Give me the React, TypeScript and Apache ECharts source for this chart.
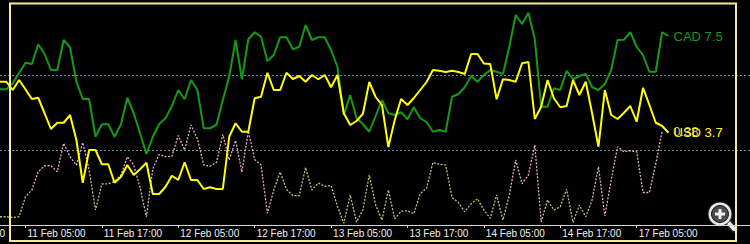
import React, { useEffect, useRef } from "react";
import * as echarts from "echarts";

// hour offsets relative to "11 Feb 05:00"
const firstHour = -4;
const tickHours = [0, 12, 24, 36, 48, 60, 72, 84, 96];
const tickLabels = [
  "11 Feb 05:00",
  "11 Feb 17:00",
  "12 Feb 05:00",
  "12 Feb 17:00",
  "13 Feb 05:00",
  "13 Feb 17:00",
  "14 Feb 05:00",
  "14 Feb 17:00",
  "17 Feb 05:00",
];
const hiddenLeftLabel = "10 Feb 17:00";

const cadValues = [
  5.43, 5.43, 5.67, 6.08, 6.49, 6.44, 7.23, 6.84, 6.2, 6.2,
  7.4, 7.11, 5.73, 5.04, 5.04, 3.53, 4.03, 4.03, 3.53, 4.03,
  5.09, 4.47, 3.67, 2.84, 3.53, 4.04, 4.27, 4.76, 5.4, 5.03,
  5.8, 5.4, 3.87, 3.87, 4.01, 5.0, 5.93, 7.4, 5.83, 7.43,
  7.71, 7.53, 6.56, 6.8, 7.51, 7.51, 7.03, 7.13, 8.0, 7.4,
  7.51, 7.51, 7.0, 6.33, 4.4, 5.2, 4.27, 4.04, 3.73, 4.36,
  5.0, 4.47, 4.4, 4.51, 4.23, 4.71, 4.27, 4.12, 3.73, 3.8,
  3.73, 5.13, 5.24, 5.51, 5.96, 5.73, 6.0, 6.2, 6.13, 6.04,
  7.13, 8.4, 8.04, 8.49, 7.43, 4.73, 4.73, 5.47, 5.4, 6.17,
  5.83, 5.96, 6.04, 5.51, 5.4, 5.64, 6.2, 7.4, 7.41, 7.71,
  7.13, 6.79, 6.13, 6.13, 7.71, 7.56,
];

const usdValues = [
  5.73, 5.73, 5.4, 5.8, 5.43, 5.04, 5.09, 4.47, 3.84, 4.09,
  4.09, 4.4, 3.4, 1.69, 3.0, 3.0, 2.43, 2.43, 1.69, 1.93,
  2.4, 2.0, 2.23, 2.49, 1.24, 1.24, 1.53, 1.97, 1.8, 2.51,
  1.8, 1.8, 1.44, 1.51, 1.44, 1.44, 3.53, 4.07, 3.73, 3.73,
  5.07, 5.13, 6.09, 5.4, 5.4, 6.09, 5.84, 5.96, 5.73, 6.0,
  5.83, 6.0, 5.51, 6.0, 4.47, 4.0, 4.16, 4.45, 5.72, 5.12,
  4.8, 3.12, 4.2, 5.04, 4.8, 5.08, 5.4, 5.72, 6.2, 6.17,
  6.12, 6.17, 6.12, 6.04, 6.84, 6.84, 6.46, 6.44, 5.03, 5.83,
  5.8, 5.73, 6.47, 6.52, 4.24, 4.73, 5.8, 5.07, 4.71, 4.76,
  5.8, 5.2, 5.73, 4.47, 3.13, 5.4, 4.4, 4.24, 4.49, 4.76,
  4.13, 5.49, 4.8, 4.09, 3.96, 3.69,
];

const gapValues = [
  0.33, 0.33, 0.3, 0.33, 1.13, 1.4, 2.13, 2.37, 2.37, 2.13,
  3.27, 2.73, 2.4, 3.3, 2.2, 0.6, 1.64, 1.65, 1.75, 2.0,
  2.73, 2.4, 1.5, 0.33, 2.25, 2.82, 2.73, 2.75, 3.58, 3.0,
  4.0, 3.45, 2.4, 2.35, 2.5, 3.62, 2.6, 3.38, 2.12, 3.75,
  2.62, 2.4, 0.47, 1.4, 2.12, 1.42, 1.18, 1.17, 2.3, 1.4,
  1.68, 1.55, 1.58, 0.75, 0.07, 1.2, 0.12, 0.6, 2.0, 0.8,
  0.2, 1.4, 0.25, 0.55, 0.57, 0.45, 1.25, 1.47, 2.5, 2.43,
  2.4, 1.1, 0.9, 0.53, 0.85, 1.05, 0.6, 0.27, 1.2, 0.2,
  1.2, 2.6, 1.65, 2.0, 3.2, 0.12, 1.0, 0.6, 0.73, 1.43,
  0.1, 0.8, 0.33, 1.0, 2.33, 0.36, 1.8, 3.13, 2.93, 2.97,
  2.93, 1.3, 1.3, 2.45, 3.75,
];

// hour ranges where the dotted gap line is drawn pink (otherwise olive)
const pinkRanges = [
  [1, 10],
  [15, 38],
  [76, 81],
  [89, 200],
];

const cadLabel = "CAD 7.5";
const usdLabel = "USD 3.7";
const gapLabel = "0.38";

const GREEN = "#169a16";
const YELLOW = "#ffff00";
const PINK = "#e6aac8";
const OLIVE = "#c4c07a";
const FONT = "Liberation Sans, Arial, sans-serif";

const toPairs = (vals: number[]) => vals.map((v, k) => [firstHour + k, v]);

export default function App() {
  const ref = useRef<HTMLDivElement>(null);
  useEffect(() => {
    if (!ref.current) return;
    const chart = echarts.init(ref.current, null, { renderer: "svg" });

    const pieces: any[] = [];
    let cursor = -1000;
    pinkRanges.forEach(([a, b]) => {
      pieces.push({ gte: cursor, lt: a, color: OLIVE });
      pieces.push({ gte: a, lt: b, color: PINK });
      cursor = b;
    });
    pieces.push({ gte: cursor, color: OLIVE });

    chart.setOption({
      animation: false,
      backgroundColor: "#000000",
      grid: { left: 0, right: 0, top: 0, bottom: 19, containLabel: false },
      xAxis: {
        type: "value",
        min: firstHour,
        max: 113.8,
        axisLine: { show: true, lineStyle: { color: "#d6d6d6", width: 1 } },
        axisTick: {
          show: true,
          customValues: tickHours,
          length: 3,
          lineStyle: { color: "#d6d6d6" },
        },
        axisLabel: {
          show: true,
          customValues: tickHours,
          formatter: (v: number) => {
            const k = tickHours.indexOf(Math.round(v));
            return k >= 0 ? tickLabels[k] : "";
          },
          align: "left",
          padding: [0, 0, 0, 2],
          margin: 3,
          color: "#f0f0f0",
          fontSize: 10,
          fontFamily: FONT,
        },
        splitLine: { show: false },
      },
      yAxis: {
        type: "value",
        min: 0,
        max: 9,
        interval: 3,
        axisLine: { show: false },
        axisTick: { show: false },
        axisLabel: { show: false },
        splitLine: {
          show: true,
          showMinLine: false,
          showMaxLine: false,
          lineStyle: { color: "#6a91b5", type: [2, 2], width: 1 },
        },
      },
      visualMap: {
        type: "piecewise",
        show: false,
        dimension: 0,
        seriesIndex: 0,
        pieces,
      },
      series: [
        {
          name: "gap",
          type: "line",
          data: toPairs(gapValues),
          showSymbol: false,
          z: 2,
          lineStyle: { width: 1.3, type: [2, 1.5] },
          endLabel: {
            show: true,
            formatter: gapLabel,
            color: "#eaa6d2",
            fontSize: 13,
            fontFamily: FONT,
            distance: 11,
          },
        },
        {
          name: "CAD",
          type: "line",
          data: toPairs(cadValues),
          showSymbol: false,
          z: 3,
          lineStyle: { width: 2, color: GREEN },
          itemStyle: { color: GREEN },
          endLabel: {
            show: true,
            formatter: cadLabel,
            color: GREEN,
            fontSize: 13,
            fontFamily: FONT,
            distance: 5,
          },
        },
        {
          name: "USD",
          type: "line",
          data: toPairs(usdValues),
          showSymbol: false,
          z: 4,
          lineStyle: { width: 2, color: YELLOW },
          itemStyle: { color: YELLOW },
          endLabel: {
            show: true,
            formatter: usdLabel,
            color: YELLOW,
            fontSize: 13,
            fontFamily: FONT,
            distance: 5,
          },
        },
      ],
      graphic: [
        {
          type: "text",
          x: 5,
          y: 228,
          z: 50,
          style: {
            text: hiddenLeftLabel,
            align: "right",
            verticalAlign: "top",
            fill: "#f0f0f0",
            fontSize: 10,
            fontFamily: FONT,
          },
        },
        {
          type: "rect",
          z: 100,
          shape: { x: 10, y: 3.5, width: 726, height: 237.5 },
          style: { fill: "none", stroke: "#f3eca0", lineWidth: 2 },
        },
        {
          type: "group",
          x: 720,
          y: 214,
          z: 110,
          children: [
            {
              type: "line",
              shape: { x1: 7, y1: 7, x2: 14, y2: 15 },
              style: { stroke: "#2a2a2a", lineWidth: 7, lineCap: "round" },
            },
            {
              type: "line",
              shape: { x1: 7, y1: 7, x2: 14, y2: 15 },
              style: { stroke: "#eeeeee", lineWidth: 4, lineCap: "round" },
            },
            {
              type: "circle",
              shape: { cx: 0, cy: 0, r: 12 },
              style: { fill: "#e6e6e6", stroke: "#2a2a2a", lineWidth: 1 },
            },
            {
              type: "circle",
              shape: { cx: 0, cy: 0, r: 8.5 },
              style: { fill: "#4a4a4a", stroke: "#1a1a1a", lineWidth: 1 },
            },
            {
              type: "rect",
              shape: { x: -5, y: -1.5, width: 10, height: 3 },
              style: { fill: "#f0f0f0" },
            },
            {
              type: "rect",
              shape: { x: -1.5, y: -5, width: 3, height: 10 },
              style: { fill: "#f0f0f0" },
            },
          ],
        },
      ],
    });
    return () => chart.dispose();
  }, []);

  return (
    <div
      ref={ref}
      style={{
        position: "absolute",
        left: 0,
        top: 0,
        width: 750,
        height: 244,
        background: "#000",
      }}
    />
  );
}
